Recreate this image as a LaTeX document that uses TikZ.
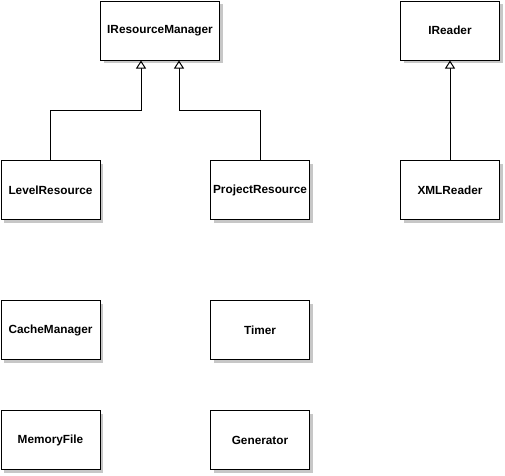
\documentclass[tikz,border=0pt]{standalone}
\usepackage{fontspec}
\setmainfont{Liberation Sans}
\usetikzlibrary{arrows.meta,shadows}
\begin{document}
\begin{tikzpicture}[
  cls/.style={draw=black, line width=1pt, fill=white, minimum height=59pt,
    inner sep=0pt, font=\fontsize{11.8}{14}\selectfont\bfseries,
    drop shadow={shadow xshift=3pt, shadow yshift=-3pt, fill=black!22, opacity=1}},
  wide/.style={cls, minimum width=119pt},
  narrow/.style={cls, minimum width=99pt},
  inh/.style={draw=black, line width=1pt, -{Triangle[open, length=8pt, width=10pt, fill=white]}}
]
\useasboundingbox (0,0) rectangle (505pt,-475pt);
\node[wide]   (irm) at (160pt,-30.5pt)  {IResourceManager};
\node[narrow] (ir)  at (450pt,-30.5pt)  {IReader};
\node[narrow] (lr)  at (50.5pt,-190pt)  {LevelResource};
\node[narrow] (pr)  at (260pt,-190pt) {ProjectResource};
\node[narrow] (xr)  at (450pt,-190pt) {XMLReader};
\node[narrow] (cm)  at (50.5pt,-330pt)  {CacheManager};
\node[narrow] (tm)  at (260pt,-330pt) {Timer};
\node[narrow] (mf)  at (50.5pt,-440pt)  {MemoryFile};
\node[narrow] (gen) at (260pt,-440pt) {Generator};
\draw[inh] (lr.north) -- ++(0,50pt) -| ([xshift=-19pt]irm.south);
\draw[inh] (pr.north) -- ++(0,50pt) -| ([xshift=19pt]irm.south);
\draw[inh] (xr.north) -- (ir.south);
\end{tikzpicture}
\end{document}
